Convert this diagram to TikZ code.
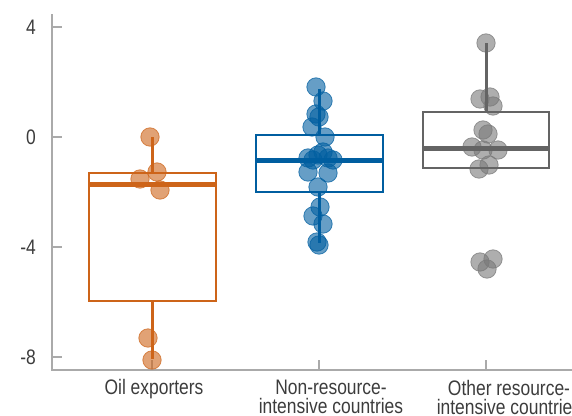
\documentclass[tikz,border=0pt]{standalone}
\usepackage{fontspec}
\setmainfont{Liberation Sans}
\definecolor{oilc}{RGB}{205,100,25}
\definecolor{nonc}{RGB}{0,94,160}
\definecolor{othc}{RGB}{100,100,100}
\definecolor{ptgray}{RGB}{120,120,120}
\definecolor{axisc}{RGB}{170,170,170}
\definecolor{txtc}{RGB}{60,60,60}
\tikzset{
  axisline/.style={draw=axisc, line width=1.5pt},
  ticklab/.style={anchor=base east, inner sep=0pt, xscale=0.83, text=txtc, font=\fontsize{21}{23}\selectfont},
  catlab/.style={anchor=north, inner sep=0pt, xscale=0.83, align=center, text=txtc, font=\fontsize{21}{19}\selectfont},
  pt/.style={fill=#1, fill opacity=0.6, draw=#1, draw opacity=0.7, line width=0.8pt},
  boxline/.style={draw=#1, line width=2.2pt},
  medline/.style={draw=#1, line width=5pt},
  whisk/.style={draw=#1, line width=3pt},
}
\begin{document}
\begin{tikzpicture}[x=1pt,y=-1pt]
\useasboundingbox (0,0) rectangle (572,415);
% axes
\coordinate (ytop) at (52,14);
\coordinate (orig) at (52,370);
\coordinate (xend) at (572,370);
\draw[axisline] (ytop) -- (orig) -- (xend);
\foreach \v/\y in {4/27,0/137,-4/247,-8/357}{
  \draw[axisline] (52,\y) -- (62,\y);
  \node[ticklab] (t\v) at (36,\y+7.5) {\v};
}
\foreach \x in {152,319,486}{
  \draw[axisline] (\x,370) -- (\x,360);
}
% Oil exporters points
\foreach \px/\py in {150/137,157/172,140/179,160/190,148/338,152/360}{
  \fill[pt=oilc] (\px,\py) circle (9.2);
}
% Non-resource points
\foreach \px/\py in {316/87,323/101,316/114,319/117,312/127,325/137,308/158,318/155,328/158,323/152,313/160,333/160,308/172,328/173,318/187,320/207,313/216,323/224,317/242,319/245}{
  \fill[pt=nonc] (\px,\py) circle (9.2);
}
% Other resource points
\foreach \px/\py in {486/43,480/99,490/97,493/106,483/130,488/134,472/147,483/150,498/150,479/169,489/165,480/262,493/259,487/269}{
  \fill[pt=ptgray] (\px,\py) circle (9.2);
}
% Oil box
\draw[whisk=oilc] (152,137) -- (152,173);
\draw[whisk=oilc] (152,301) -- (152,359);
\draw[boxline=oilc] (89,173) rectangle (216,301);
\draw[medline=oilc] (89,184) -- (216,184);
% Non-resource box
\draw[whisk=nonc] (319,89) -- (319,135);
\draw[whisk=nonc] (319,192) -- (319,243);
\draw[boxline=nonc] (256,135) rectangle (383,192);
\draw[medline=nonc] (256,160) -- (383,160);
% Other box
\draw[whisk=othc] (486,43) -- (486,112);
\draw[boxline=othc] (423,112) rectangle (549,168);
\draw[medline=othc] (423,148) -- (549,148);
% category labels
\node[catlab] (c1) at (154,379.5) {Oil exporters};
\node[catlab] (c2) at (331,380) {Non-resource-\\intensive countries};
\node[catlab] (c3) at (509,380) {Other resource-\\intensive countries};
\end{tikzpicture}
\end{document}
